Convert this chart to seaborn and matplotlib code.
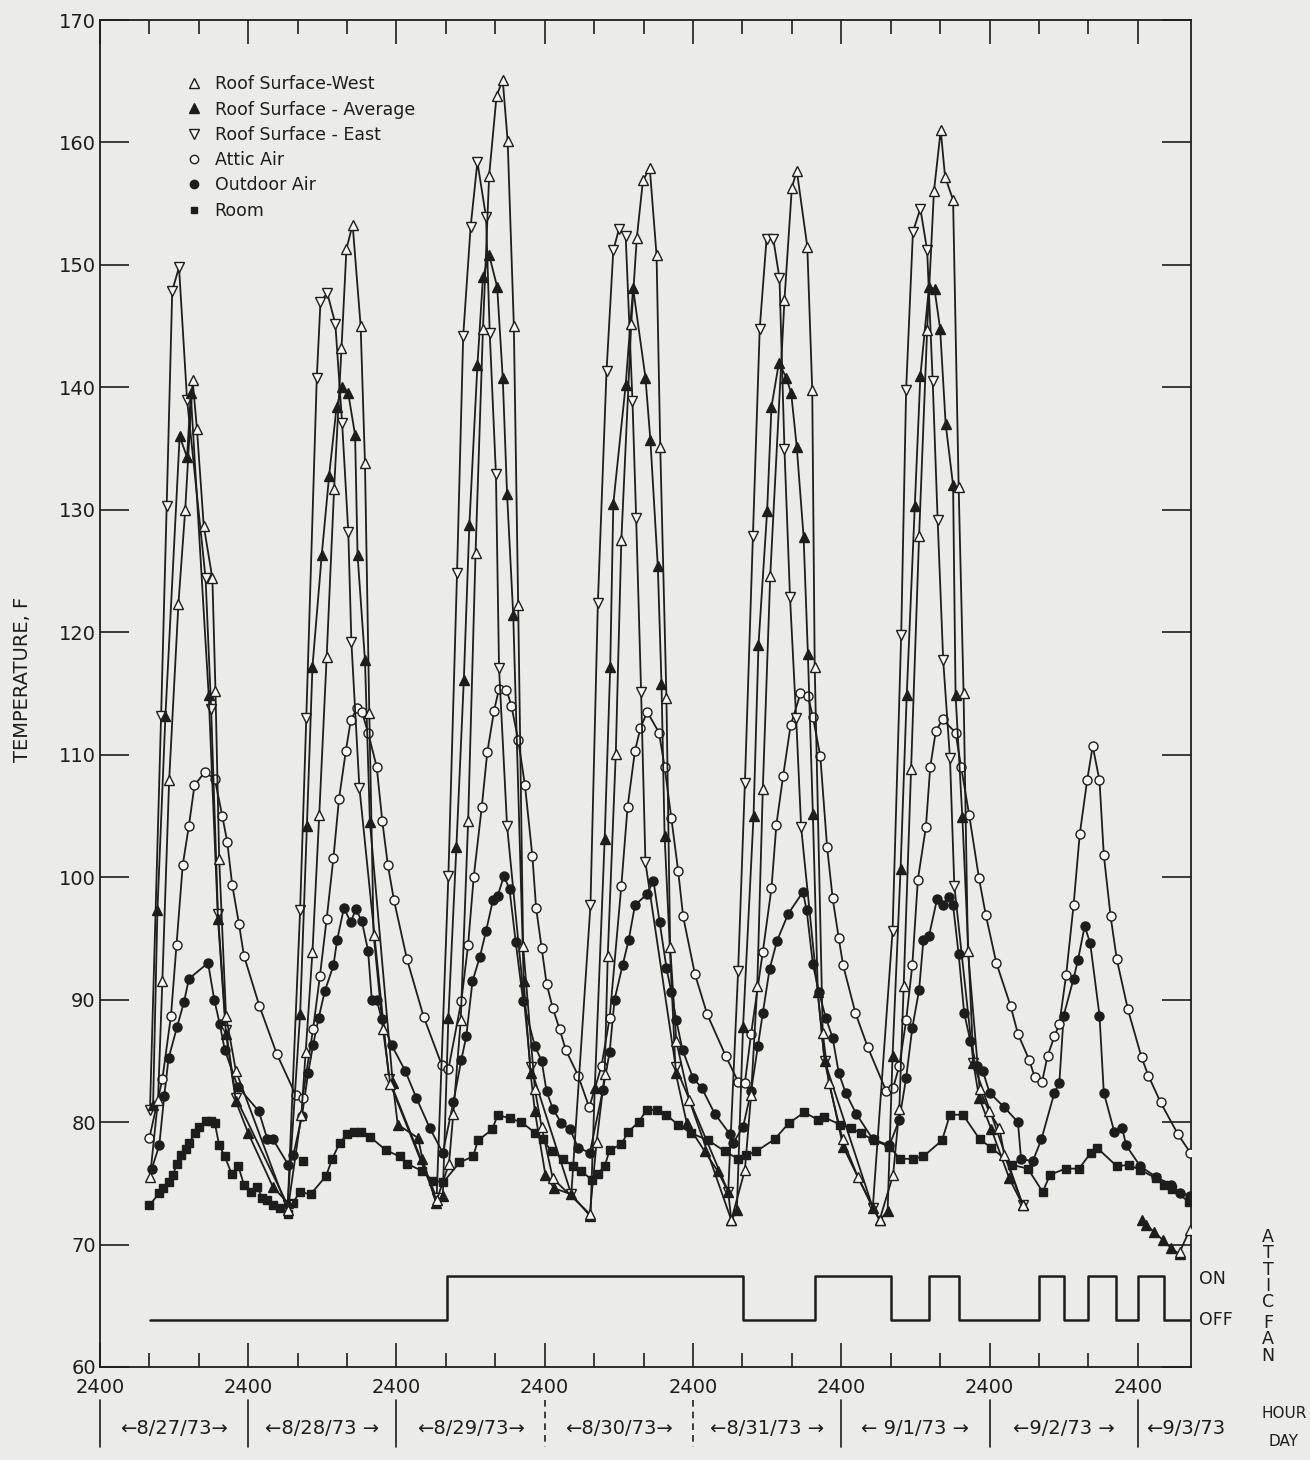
import numpy as np
import pandas as pd
import matplotlib
matplotlib.use("Agg")
import matplotlib.pyplot as plt
import seaborn as sns
from matplotlib.lines import Line2D

# ---------------- data (hours since 2400 of 8/26/73, temperature F) ----------------
west_h = [8.1, 9.4, 10.1, 11.2, 12.7, 13.8, 15.0, 15.7, 16.8, 18.2, 18.7, 19.3, 20.4, 22.0, 30.4,
          32.6, 33.3, 34.4, 35.5, 36.7, 37.9, 39.1, 39.9, 40.9, 42.2, 42.9, 43.6, 44.3, 45.8, 47.0, 54.5,
          56.5, 57.2, 58.4, 59.6, 60.8, 62.0, 63.0, 64.2, 65.2, 66.0, 67.0, 67.7, 68.5, 70.4, 71.5, 73.3, 79.3,
          80.4, 81.7, 82.2, 83.5, 84.4, 86.0, 86.9, 87.9, 89.0, 90.1, 90.7, 91.7, 92.3, 93.3, 95.4, 102.2,
          104.4, 105.4, 106.4, 107.3, 108.5, 110.8, 112.0, 112.8, 114.5, 115.3, 115.7, 117.0, 118.0, 120.2, 122.7, 126.2,
          128.4, 129.4, 130.1, 131.3, 132.6, 133.9, 135.0, 136.1, 136.8, 138.1, 139.0, 139.8, 140.5, 142.4, 143.9, 145.6, 146.4, 149.4]
west_t = [75.5, 81.8, 91.5, 107.9, 122.3, 130.0, 140.6, 136.6, 128.7, 124.4, 115.2, 101.5, 88.7, 84.2, 72.8,
          80.6, 85.7, 93.9, 105.1, 118.0, 131.7, 143.2, 151.3, 153.3, 145.0, 133.8, 113.4, 95.3, 87.6, 83.1, 73.6,
          76.6, 80.7, 88.3, 104.6, 126.5, 144.8, 157.3, 163.8, 165.1, 160.1, 145.0, 122.2, 94.4, 82.7, 79.6, 75.4, 72.5,
          78.4, 83.9, 93.6, 110.1, 127.5, 145.2, 152.2, 156.9, 157.9, 150.8, 135.1, 114.6, 94.3, 86.6, 81.8, 72.0,
          76.1, 82.2, 91.1, 107.2, 124.6, 147.1, 156.3, 157.7, 151.5, 139.8, 117.2, 87.3, 83.2, 78.6, 75.5, 72.0,
          75.7, 81.1, 91.1, 108.8, 127.9, 144.7, 156.0, 161.0, 157.2, 155.3, 131.9, 115.0, 94.0, 82.7, 80.9, 79.5, 77.3, 73.2]
west_tail_h = [174.8, 176.4]
west_tail_t = [69.4, 71.2]

avg_h = [8.6, 9.3, 10.6, 12.9, 14.1, 14.7, 17.6, 19.1, 20.4, 22.0, 24.0, 28.0, 30.4,
         32.4, 33.5, 34.4, 35.9, 37.1, 38.3, 39.2, 40.2, 41.3, 41.7, 42.9, 43.7, 47.4, 48.2, 51.5, 52.2, 54.4, 55.5,
         56.4, 57.7, 58.9, 59.8, 61.1, 62.0, 63.0, 64.3, 65.2, 65.9, 66.9, 68.6, 69.7, 70.4, 72.1, 73.5, 76.3, 79.4,
         80.1, 81.7, 82.6, 83.1, 85.1, 86.3, 88.3, 89.1, 90.3, 90.9, 91.4, 93.2, 95.0, 97.9, 100.0, 101.7, 102.2,
         103.1, 104.1, 105.8, 106.6, 108.0, 108.7, 109.9, 111.1, 111.9, 112.8, 113.9, 114.6, 115.4, 116.2, 117.3, 120.3, 125.1, 126.2, 127.5,
         128.3, 129.6, 130.6, 131.9, 132.8, 134.2, 135.1, 136.0, 136.9, 138.1, 138.5, 139.6, 141.4, 142.3, 144.3, 147.2, 149.4]
avg_t = [81.4, 97.3, 113.2, 136.0, 134.3, 139.5, 114.9, 96.6, 87.2, 81.7, 79.1, 74.7, 73.4,
         88.8, 104.2, 117.2, 126.3, 132.8, 138.4, 140.0, 139.5, 136.1, 126.3, 117.7, 104.5, 83.2, 79.8, 78.7, 77.0, 73.4, 74.0,
         88.5, 102.5, 116.1, 128.8, 141.8, 149.0, 150.8, 148.2, 140.8, 131.3, 121.4, 91.5, 84.0, 80.9, 75.7, 74.6, 74.1, 72.3,
         82.8, 103.1, 117.2, 130.5, 140.2, 148.1, 140.8, 135.7, 125.4, 115.8, 103.4, 84.0, 79.9, 77.6, 76.0, 74.3, 72.0,
         72.8, 87.8, 105.0, 119.0, 129.9, 138.4, 142.0, 140.8, 139.5, 135.1, 127.8, 118.2, 105.2, 90.6, 85.0, 78.0, 73.0, 72.0, 72.7,
         85.4, 100.7, 114.9, 130.3, 140.9, 148.2, 148.0, 144.8, 137.0, 132.0, 114.9, 104.9, 84.8, 82.0, 79.4, 75.4, 73.2]
avg_tail_h = [168.6, 169.4, 170.7, 172.0, 173.4, 174.8]
avg_tail_t = [72.0, 71.6, 71.0, 70.4, 69.7, 69.2]

east_h = [8.1, 9.9, 10.8, 11.7, 12.8, 14.1, 17.1, 18.0, 19.1, 20.4, 22.0, 30.4,
          32.4, 33.4, 35.1, 35.7, 36.8, 38.1, 39.2, 40.2, 40.7, 42.0, 46.8, 54.5,
          56.4, 57.8, 58.8, 60.0, 61.1, 62.5, 63.1, 64.1, 64.6, 65.9, 69.7, 76.3,
          79.4, 80.6, 82.0, 83.1, 84.0, 85.1, 86.2, 86.8, 87.6, 88.3, 93.2, 101.7,
          103.3, 104.4, 105.7, 106.8, 107.9, 109.0, 110.0, 110.8, 111.7, 112.7, 113.5, 117.3, 125.1,
          128.3, 129.7, 130.5, 131.6, 132.8, 133.9, 134.8, 135.6, 136.5, 137.6, 138.3, 141.4, 149.4]
east_t = [81.0, 113.2, 130.3, 147.9, 149.8, 139.0, 124.4, 113.7, 97.0, 87.5, 82.0, 73.2,
          97.3, 113.0, 140.8, 147.0, 147.7, 145.2, 137.1, 128.2, 119.2, 107.3, 83.5, 73.8,
          100.1, 124.8, 144.2, 153.1, 158.4, 153.9, 144.4, 132.9, 117.1, 104.2, 84.5, 74.1,
          97.7, 122.4, 141.3, 151.2, 152.9, 152.4, 138.9, 129.3, 115.1, 101.2, 84.5, 74.3,
          92.3, 107.7, 127.9, 144.8, 152.1, 152.1, 148.9, 135.0, 122.9, 113.0, 104.1, 85.0, 73.0,
          95.6, 119.8, 139.8, 152.7, 154.6, 151.2, 140.5, 129.2, 117.7, 109.7, 99.3, 84.8, 73.2]

attic_h = [8.0, 10.1, 11.5, 12.4, 13.4, 14.4, 15.3, 17.0, 18.6, 19.8, 20.6, 21.4, 22.5, 23.3, 25.8, 28.6, 31.7, 32.8,
           34.5, 35.6, 36.7, 37.8, 38.7, 39.8, 40.6, 41.6, 42.4, 43.4, 44.8, 45.7, 46.6, 47.6, 49.7, 52.4, 55.3, 56.4,
           58.5, 59.6, 60.5, 61.8, 62.7, 63.8, 64.6, 65.8, 66.6, 67.7, 68.8, 70.0, 70.6, 71.5, 72.3, 73.3, 74.4, 75.4,
           77.4, 79.2, 81.2, 82.5, 84.4, 85.4, 86.6, 87.5, 88.6, 90.5, 91.4, 92.5, 93.6, 94.4, 96.3, 98.3, 101.3, 103.3,
           104.4, 105.4, 107.3, 108.7, 109.5, 110.6, 111.8, 113.4, 114.6, 115.4, 116.6, 117.7, 118.6, 119.6, 120.3, 122.3,
           124.3, 127.3, 128.4, 129.4, 130.5, 131.5, 132.4, 133.7, 134.4, 135.3, 136.4, 138.5, 139.4, 140.7, 142.3, 143.4,
           145.1, 147.4, 148.6, 150.4, 151.3, 152.5, 153.4, 154.5, 155.3, 156.4, 157.6, 158.6, 159.8, 160.7, 161.8, 162.5,
           163.6, 164.6, 166.4, 168.6, 169.7, 171.7, 174.5, 176.5]
attic_t = [78.7, 83.5, 88.7, 94.5, 101.0, 104.2, 107.5, 108.6, 108.0, 105.0, 102.9, 99.4, 96.2, 93.6, 89.5, 85.6, 82.2, 82.0,
           87.6, 91.9, 96.6, 101.6, 106.4, 110.3, 112.8, 113.8, 113.5, 111.8, 109.0, 104.6, 101.0, 98.1, 93.3, 88.6, 84.7, 84.3,
           89.9, 94.5, 100.0, 105.7, 110.2, 113.6, 115.4, 115.3, 114.0, 111.2, 107.5, 101.7, 97.5, 94.2, 91.3, 89.3, 87.6, 85.9,
           83.8, 81.2, 84.6, 88.5, 99.3, 105.7, 110.3, 112.2, 113.5, 111.8, 109.0, 104.8, 100.5, 96.8, 92.1, 88.8, 85.4, 83.3,
           83.2, 87.2, 93.9, 99.1, 104.3, 108.3, 112.4, 115.0, 114.8, 113.1, 109.9, 102.5, 98.3, 95.0, 92.8, 88.9,
           86.1, 82.5, 82.8, 84.6, 88.3, 92.8, 99.8, 104.1, 109.0, 111.9, 112.9, 111.8, 109.0, 105.1, 99.9, 96.9,
           93.0, 89.5, 87.2, 85.1, 83.7, 83.3, 85.4, 87.0, 88.0, 92.0, 97.7, 103.5, 107.9, 110.7, 107.9, 101.8,
           96.8, 93.3, 89.2, 85.3, 83.8, 81.6, 79.0, 77.5]

out_h = [8.4, 9.6, 10.4, 11.1, 12.5, 13.6, 14.4, 17.5, 18.5, 19.4, 20.2, 22.3, 25.7, 27.1, 28.0, 30.5, 31.3, 32.7,
         33.7, 34.5, 35.4, 36.4, 37.8, 38.4, 39.5, 40.6, 41.4, 42.4, 43.4, 44.0, 44.8, 45.6, 47.2, 49.4, 51.2, 53.4,
         55.5, 57.2, 58.5, 59.3, 60.3, 61.5, 62.5, 63.6, 64.4, 65.4, 66.3, 67.3, 68.5, 70.4, 71.5, 72.3, 73.3, 74.7,
         76.1, 77.4, 79.3, 81.4, 82.5, 83.3, 84.6, 85.6, 86.6, 88.5, 89.6, 90.6, 91.7, 92.5, 93.3, 94.3, 96.0, 97.4,
         99.5, 102.0, 102.5, 104.1, 105.4, 106.5, 107.3, 108.4, 109.6, 111.4, 113.8, 114.4, 115.4, 116.4, 117.5, 118.6,
         119.6, 120.7, 122.4, 125.1, 127.8, 129.4, 130.5, 131.5, 132.6, 133.3, 134.2, 135.5, 136.4, 137.4, 138.1, 139.0,
         139.9, 140.9, 141.9, 142.9, 144.0, 146.4, 148.6, 149.1, 151.0, 152.4, 154.5, 155.3, 156.0, 157.6, 158.3, 159.4,
         160.3, 161.8, 162.5, 164.2, 165.5, 166.1, 168.4, 171.0, 173.4, 174.8, 176.5]
out_t = [76.2, 78.1, 82.1, 85.2, 87.8, 89.8, 91.7, 93.0, 90.0, 88.0, 85.9, 82.9, 80.9, 78.6, 78.6, 76.5, 77.3, 80.5,
         84.0, 86.3, 88.5, 90.7, 92.8, 94.9, 97.5, 96.3, 97.4, 96.4, 94.0, 90.0, 90.0, 88.4, 86.3, 84.2, 82.0, 79.5,
         77.5, 81.6, 85.1, 87.0, 91.5, 93.5, 95.6, 98.1, 98.5, 100.1, 99.0, 94.7, 89.9, 86.2, 85.0, 82.5, 81.1, 79.9,
         79.4, 77.9, 77.5, 82.6, 85.7, 90.0, 92.8, 94.9, 97.7, 98.6, 99.7, 96.3, 92.6, 90.6, 88.3, 85.9, 83.6, 82.8,
         80.7, 79.0, 78.3, 79.6, 82.5, 86.2, 88.9, 92.5, 94.8, 97.0, 98.8, 97.3, 92.9, 90.6, 88.5, 86.9,
         84.0, 82.4, 80.7, 78.6, 78.1, 80.2, 83.6, 87.7, 90.8, 94.9, 95.2, 98.2, 97.7, 98.4, 97.7, 93.7,
         88.9, 86.6, 84.6, 84.2, 82.4, 81.2, 80.0, 77.0, 76.8, 78.6, 82.4, 83.2, 88.7, 91.7, 93.2, 96.0,
         94.6, 88.7, 82.4, 79.2, 79.5, 78.1, 76.4, 75.5, 74.9, 74.2, 74.0]

room_h = [8.0, 9.6, 10.2, 11.1, 11.8, 12.5, 13.2, 13.9, 14.4, 15.4, 16.1, 17.2, 18.0, 18.6, 19.3, 20.2, 21.3, 22.4,
          23.3, 24.5, 25.4, 26.3, 27.0, 28.0, 29.1, 30.5, 31.2, 32.4, 34.1, 36.6, 37.6, 38.8, 40.0, 41.1, 42.3, 43.7,
          46.3, 48.5, 49.7, 52.2, 53.9, 55.6, 58.2, 60.4, 61.2, 63.5, 64.4, 66.3, 68.2, 70.5, 71.7, 73.1, 75.0, 76.5,
          77.9, 79.6, 80.6, 81.7, 82.5, 84.4, 85.5, 87.2, 88.5, 90.2, 91.7, 93.5, 95.7, 98.5, 101.2, 103.3, 104.6, 106.2,
          109.2, 111.5, 114.0, 116.2, 117.2, 119.8, 121.6, 123.2, 125.3, 127.8, 129.5, 131.6, 133.3, 136.3, 137.6, 139.7,
          142.4, 144.3, 147.7, 150.2, 152.6, 153.8, 156.3, 158.5, 160.4, 161.4, 164.6, 166.5, 168.4, 171.0, 172.3, 173.5,
          176.3]
room_t = [73.2, 74.2, 74.6, 75.1, 75.7, 76.6, 77.3, 77.8, 78.3, 79.1, 79.6, 80.1, 80.1, 79.9, 78.1, 77.2, 75.8, 76.4,
          74.9, 74.3, 74.7, 73.8, 73.6, 73.2, 73.0, 72.5, 73.4, 74.3, 74.1, 75.6, 77.0, 78.3, 79.0, 79.2, 79.2, 78.8,
          77.7, 77.2, 76.6, 76.0, 75.2, 75.1, 76.7, 77.2, 78.5, 79.4, 80.6, 80.3, 80.0, 79.1, 78.6, 77.6, 77.0, 76.4,
          76.0, 75.3, 75.8, 76.4, 77.7, 78.2, 79.2, 80.0, 81.0, 81.0, 80.6, 79.8, 79.1, 78.5, 77.6, 77.0, 77.3, 77.6,
          78.6, 79.9, 80.8, 80.2, 80.4, 79.8, 79.5, 79.1, 78.5, 78.0, 77.0, 77.0, 77.2, 78.5, 80.6, 80.6,
          78.6, 77.9, 76.5, 76.2, 74.3, 75.7, 76.2, 76.2, 77.5, 77.9, 76.4, 76.5, 76.1, 75.4, 74.9, 74.5,
          73.5]
room_iso_h = [32.9]
room_iso_t = [76.8]

fan_h = [8.1, 56.1, 104.1, 115.7, 128.1, 134.2, 139.1, 152.0, 156.1, 160.0, 164.5, 168.1, 172.2, 176.5]
fan_on = [0, 1, 0, 1, 0, 1, 0, 1, 0, 1, 0, 1, 0, 0]

day_labels = ["\u21908/27/73\u2192", "\u21908/28/73 \u2192", "\u21908/29/73\u2192", "\u21908/30/73\u2192",
              "\u21908/31/73 \u2192", "\u2190 9/1/73 \u2192", "\u21909/2/73 \u2192", "\u21909/3/73"]
legend_labels = ["Roof Surface-West", "Roof Surface - Average", "Roof Surface - East",
                 "Attic Air", "Outdoor Air", "Room"]
y_ticks = list(range(60, 171, 10))

# ---------------- style ----------------
sns.set_theme(style="ticks")
plt.rcParams["font.family"] = ["DejaVu Sans"]
BG = "#ebebe9"
INK = "#1d1d1d"
OPEN = "#f7f7f5"

fig = plt.figure(figsize=(13.1, 14.6), dpi=100, facecolor=BG)
ax = fig.add_axes([0.0763, 0.0637, 0.8328, 0.9226])
ax.set_facecolor(BG)


def draw(h, t, marker, filled, ms, lw=1.3, line=True):
    df = pd.DataFrame({"h": h, "t": t})
    sns.lineplot(data=df, x="h", y="t", ax=ax, sort=False, estimator=None, legend=False,
                 color=INK, linewidth=lw if line else 0, marker=marker, markersize=ms,
                 markerfacecolor=INK if filled else OPEN, markeredgecolor=INK,
                 markeredgewidth=1.0, zorder=3)


draw(room_h, room_t, "s", True, 5.2)
draw(room_iso_h, room_iso_t, "s", True, 5.2, line=False)
draw(out_h, out_t, "o", True, 6.5)
draw(attic_h, attic_t, "o", False, 6.5)
draw(east_h, east_t, "v", False, 7.5)
draw(avg_h, avg_t, "^", True, 7.5)
draw(avg_tail_h, avg_tail_t, "^", True, 7.5)
draw(west_h, west_t, "^", False, 7.5)
draw(west_tail_h, west_tail_t, "^", False, 7.5)

# attic fan step line
ON_LEVEL, OFF_LEVEL = 67.4, 63.8
fan_df = pd.DataFrame({"h": fan_h, "y": [ON_LEVEL if s else OFF_LEVEL for s in fan_on]})
sns.lineplot(data=fan_df, x="h", y="y", ax=ax, sort=False, estimator=None, legend=False,
             color=INK, linewidth=1.8, drawstyle="steps-post")

# axes
ax.set_xlim(0, 176.6)
ax.set_ylim(60, 170)
ax.set_yticks(y_ticks)
ax.set_yticklabels([str(v) for v in y_ticks])
major = np.arange(0, 169, 24)
ax.set_xticks(major)
ax.set_xticklabels(["2400"] * len(major))
ax.set_xticks([m for m in range(8, 176, 8) if m % 24 != 0], minor=True)
ax.set_xlabel("")
ax.set_ylabel("")
ax.tick_params(axis="y", which="major", direction="in", length=21, width=1.2,
               left=True, right=True, labelsize=14, pad=3, colors=INK)
ax.tick_params(axis="x", which="major", direction="in", length=17, width=1.2,
               top=True, bottom=True, labelsize=14, pad=8, colors=INK)
ax.tick_params(axis="x", which="minor", direction="in", length=10, width=1.2,
               top=True, bottom=True, colors=INK)
for s in ax.spines.values():
    s.set_visible(True)
    s.set_linewidth(1.3)
    s.set_color(INK)

# legend
handles = [Line2D([], [], ls="none", marker="^", ms=7, mfc=OPEN, mec=INK),
           Line2D([], [], ls="none", marker="^", ms=7, mfc=INK, mec=INK),
           Line2D([], [], ls="none", marker="v", ms=7, mfc=OPEN, mec=INK),
           Line2D([], [], ls="none", marker="o", ms=6, mfc=OPEN, mec=INK),
           Line2D([], [], ls="none", marker="o", ms=6, mfc=INK, mec=INK),
           Line2D([], [], ls="none", marker="s", ms=5, mfc=INK, mec=INK)]
leg = ax.legend(handles, legend_labels, loc="upper left", bbox_to_anchor=(0.078, 0.959),
                frameon=False, fontsize=12.5, handlelength=1.0, handletextpad=0.7,
                labelspacing=0.42, borderaxespad=0, borderpad=0)
for t in leg.get_texts():
    t.set_color(INK)

# y label
fig.text(0.017, 0.535, "TEMPERATURE, F", rotation=90, ha="center", va="center",
         fontsize=14, color=INK)

# day row below axis
xt = ax.get_xaxis_transform()
for i, d in enumerate(major):
    ls = (0, (4, 3)) if i in (3, 4) else "-"
    ax.plot([d, d], [-0.0245, -0.0594], transform=xt, color=INK, lw=1.2, ls=ls, clip_on=False)
for i, lab in enumerate(day_labels):
    xc = major[i] + 12 if i < 7 else 175.8
    ax.text(xc, -0.0453, lab, transform=xt, ha="center", va="center", fontsize=14, color=INK,
            clip_on=False)

# right side annotations
fig.text(1212 / 1310, 1 - 1279 / 1460, "ON", ha="center", va="center", fontsize=12.5, color=INK)
fig.text(1216 / 1310, 1 - 1320 / 1460, "OFF", ha="center", va="center", fontsize=12.5, color=INK)
for ch, yp in zip("ATTIC", [1237, 1253, 1270, 1286, 1302]):
    fig.text(1268 / 1310, 1 - yp / 1460, ch, ha="center", va="center", fontsize=12.5, color=INK)
for ch, yp in zip("FAN", [1323, 1339, 1356]):
    fig.text(1268 / 1310, 1 - yp / 1460, ch, ha="center", va="center", fontsize=12.5, color=INK)
fig.text(1284 / 1310, 1 - 1413 / 1460, "HOUR", ha="center", va="center", fontsize=11, color=INK)
fig.text(1284 / 1310, 1 - 1441 / 1460, "DAY", ha="center", va="center", fontsize=11, color=INK)

fig.savefig("out.png", dpi=100, facecolor=BG)
